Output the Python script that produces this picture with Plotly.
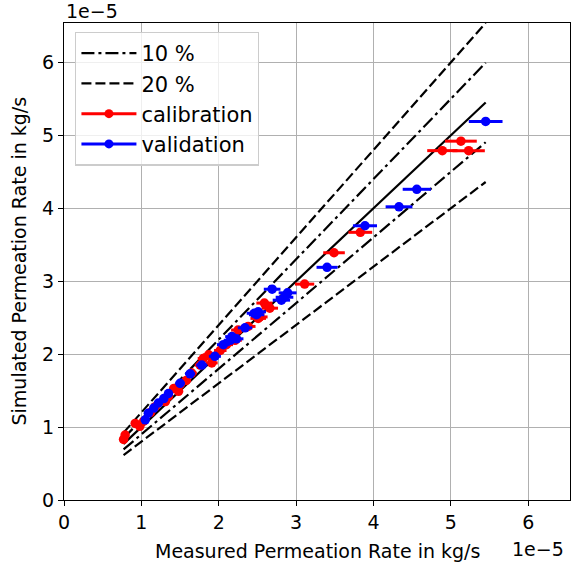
import plotly.graph_objects as go

# Values in units of 1e-5 kg/s
cal_measured = [0.77, 0.79, 0.92, 0.98, 1.03, 1.12, 1.18, 1.31, 1.35, 1.42, 1.48, 1.50, 1.58,
                1.65, 1.76, 1.80, 1.87, 1.91, 2.02, 2.10, 2.21, 2.25, 2.38, 2.49, 2.51, 2.53,
                2.59, 2.66, 3.11, 3.49, 3.83, 4.89, 5.13, 5.23]
cal_simulated = [0.83, 0.89, 1.05, 1.01, 1.08, 1.20, 1.28, 1.35, 1.42, 1.53, 1.49, 1.58, 1.64,
                 1.74, 1.85, 1.94, 1.99, 1.88, 2.05, 2.13, 2.19, 2.33, 2.38, 2.56, 2.49, 2.51,
                 2.70, 2.63, 2.96, 3.39, 3.67, 4.79, 4.92, 4.79]

val_measured = [1.05, 1.09, 1.16, 1.22, 1.29, 1.35, 1.50, 1.63, 1.78, 1.95, 2.06, 2.15, 2.17,
                2.23, 2.34, 2.46, 2.49, 2.51, 2.69, 2.81, 2.85, 2.89, 3.40, 3.89, 4.33, 4.56, 5.45]
val_simulated = [1.10, 1.19, 1.26, 1.33, 1.39, 1.46, 1.60, 1.73, 1.85, 1.97, 2.13, 2.19, 2.24,
                 2.21, 2.36, 2.56, 2.54, 2.58, 2.89, 2.74, 2.78, 2.84, 3.19, 3.76, 4.02, 4.26, 5.19]

error_percent = 4
band_factors_10 = [1.1, 0.9]
band_factors_20 = [1.2, 0.8]

all_meas = cal_measured + val_measured
x_min, x_max = min(all_meas), max(all_meas)
axis_max = 1.2 * x_max
line_x = [x_min, x_max]

FONT = "DejaVu Sans"
DASHDOT = "13px,4px,3px,4px"
DASH = "10px,4px"
LW = 2.2
fig = go.Figure()

# identity line
fig.add_trace(go.Scatter(x=line_x, y=line_x, mode="lines",
                         line=dict(color="black", width=LW), showlegend=False, hoverinfo="skip"))
for f in band_factors_10:
    fig.add_trace(go.Scatter(x=line_x, y=[f * v for v in line_x], mode="lines",
                             line=dict(color="black", width=LW, dash=DASHDOT),
                             showlegend=False, hoverinfo="skip"))
for f in band_factors_20:
    fig.add_trace(go.Scatter(x=line_x, y=[f * v for v in line_x], mode="lines",
                             line=dict(color="black", width=LW, dash=DASH),
                             showlegend=False, hoverinfo="skip"))

for xs, ys, col in [(cal_measured, cal_simulated, "#ff0000"), (val_measured, val_simulated, "#0000ff")]:
    fig.add_trace(go.Scatter(x=xs, y=ys, mode="markers",
                             marker=dict(color=col, size=9.5, line=dict(width=0)),
                             error_x=dict(type="percent", value=error_percent, color=col,
                                          thickness=3, width=0),
                             showlegend=False))

# legend entries
fig.add_trace(go.Scatter(x=[None], y=[None], mode="lines", name="10 %",
                         line=dict(color="black", width=LW, dash=DASHDOT)))
fig.add_trace(go.Scatter(x=[None], y=[None], mode="lines", name="20 %",
                         line=dict(color="black", width=LW, dash=DASH)))
fig.add_trace(go.Scatter(x=[None], y=[None], mode="lines+markers", name="calibration",
                         line=dict(color="#ff0000", width=3), marker=dict(color="#ff0000", size=9)))
fig.add_trace(go.Scatter(x=[None], y=[None], mode="lines+markers", name="validation",
                         line=dict(color="#0000ff", width=3), marker=dict(color="#0000ff", size=9)))

ticks = [0, 1, 2, 3, 4, 5, 6]
axis_common = dict(range=[0, axis_max], tickvals=ticks, ticktext=[str(t) for t in ticks],
                   showgrid=True, gridcolor="#b0b0b0", gridwidth=1.3, zeroline=False,
                   showline=True, linecolor="black", linewidth=1.4, mirror=True,
                   ticks="outside", ticklen=5, tickwidth=1.3, tickcolor="black",
                   automargin=False,
                   tickfont=dict(family=FONT, size=19, color="black"))

fig.update_layout(
    width=571, height=570,
    margin=dict(l=64, r=1, t=23, b=70),
    paper_bgcolor="white", plot_bgcolor="white",
    font=dict(family=FONT, color="black"),
    xaxis=dict(**axis_common),
    yaxis=dict(**axis_common),
    legend=dict(x=0.022, y=0.982, xanchor="left", yanchor="top",
                bgcolor="rgba(255,255,255,0.8)", bordercolor="#cccccc", borderwidth=1.3,
                font=dict(family=FONT, size=21, color="black"), itemwidth=55, tracegroupgap=0),
    showlegend=True,
    annotations=[
        dict(text="Measured Permeation Rate in kg/s", x=0.5, y=0, xref="paper", yref="paper",
             xanchor="center", yanchor="middle", yshift=-51, showarrow=False,
             font=dict(family=FONT, size=19)),
        dict(text="Simulated Permeation Rate in kg/s", x=0, y=0.5, xref="paper", yref="paper",
             xanchor="center", yanchor="middle", xshift=-46, textangle=-90, showarrow=False,
             font=dict(family=FONT, size=19)),
        dict(text="1e\u22125", x=0, y=1, xref="paper", yref="paper", xanchor="left",
             yanchor="middle", showarrow=False, yshift=12, font=dict(family=FONT, size=19)),
        dict(text="1e\u22125", x=1, y=0, xref="paper", yref="paper", xanchor="right",
             yanchor="middle", showarrow=False, yshift=-49, xshift=-4, font=dict(family=FONT, size=19)),
    ],
)

fig.write_html("out.html", post_script="document.body.style.margin='0';",
               config={"displayModeBar": False})
